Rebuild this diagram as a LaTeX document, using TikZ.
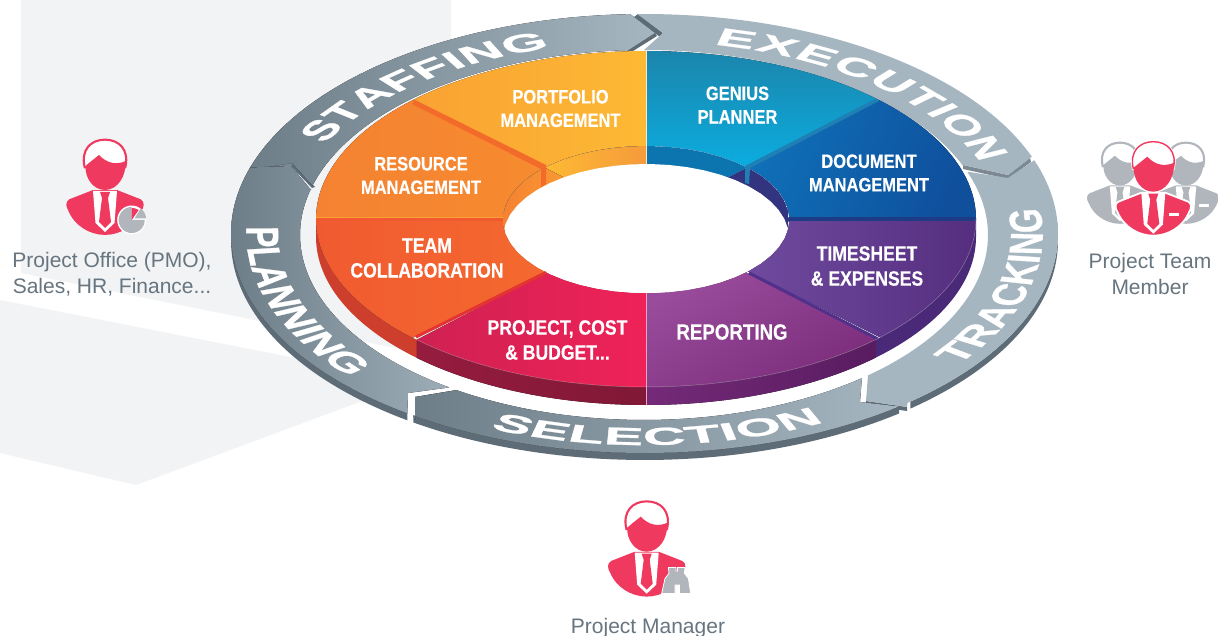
\documentclass[tikz,border=0pt]{standalone}
\usepackage{fontspec}
\usetikzlibrary{decorations.text}
\setmainfont{Liberation Sans}
\newfontfamily\condbase[FakeStretch=0.85,FakeBold=0.4]{Liberation Sans}
\newfontfamily\ringbase[FakeStretch=1.28,FakeBold=1]{Liberation Sans}
\def\ringf{\ringbase\bfseries\fontsize{46}{46}\selectfont\color{white}}
\definecolor{pk}{HTML}{F0395F}
\definecolor{gy}{HTML}{B1B6BC}
\definecolor{bgg}{HTML}{F2F3F5}
\definecolor{rlight}{HTML}{A6B6C0}
\definecolor{rdark}{HTML}{6E7E88}
\definecolor{rwall}{HTML}{5E6C78}
\definecolor{rstrip}{HTML}{7C8992}
\definecolor{lab}{HTML}{66757F}
\definecolor{HTMLa}{HTML}{CE3E2C}
\definecolor{HTMLb}{HTML}{961C3F}
\definecolor{HTMLc}{HTML}{742A78}
\definecolor{HTMLd}{HTML}{591C60}
\definecolor{HTMLe}{HTML}{4A2A78}
\definecolor{HTMLfa}{HTML}{F9A233}
\definecolor{HTMLfb}{HTML}{FDB934}
\definecolor{HTMLfc}{HTML}{F59B3B}
\definecolor{HTMLga}{HTML}{F58232}
\definecolor{HTMLgb}{HTML}{F68B2F}
\definecolor{HTMLha}{HTML}{F15A30}
\definecolor{HTMLhb}{HTML}{F4692F}
\definecolor{HTMLia}{HTML}{CF2152}
\definecolor{HTMLib}{HTML}{EF2258}
\definecolor{HTMLja}{HTML}{9A4C9C}
\definecolor{HTMLjb}{HTML}{7B2D7C}
\definecolor{HTMLka}{HTML}{6F4A9E}
\definecolor{HTMLkb}{HTML}{552E7F}
\definecolor{HTMLla}{HTML}{0F70B8}
\definecolor{HTMLlb}{HTML}{0F4F9C}
\definecolor{HTMLma}{HTML}{1B85AC}
\definecolor{HTMLmb}{HTML}{0BADE0}
\definecolor{HTMLna}{HTML}{0C74AE}
\definecolor{HTMLnb}{HTML}{33347F}
\definecolor{HTMLoa}{HTML}{F36B2A}
\definecolor{HTMLob}{HTML}{1E80B4}
\definecolor{HTMLoc}{HTML}{1D3C85}
\definecolor{HTMLod}{HTML}{E53331}
\definecolor{HTMLoe}{HTML}{50308A}
\def\Marc#1#2#3#4#5#6{plot[domain=#5:#6,samples=50,variable=\t] ({#1+#3*cos(\t)},{#2-#4*sin(\t)})}
\def\Larc#1#2#3#4#5#6{-- plot[domain=#5:#6,samples=50,variable=\t] ({#1+#3*cos(\t)},{#2-#4*sin(\t)})}
% ring ellipses
\def\RO#1#2{\Marc{644.5}{233.5}{413.5}{219.5}{#1}{#2}}
\def\RL#1#2{\Larc{644.5}{233.5}{413.5}{219.5}{#1}{#2}}
\def\RW#1#2{\Larc{644.5}{240.5}{413.5}{219.5}{#1}{#2}}
\def\RI#1#2{\Larc{644}{235}{344}{185}{#1}{#2}}
% disk
\def\sect#1#2{\Marc{646}{219}{330}{168}{#1}{#2} \Larc{646}{219.5}{143}{73.5}{#2}{#1} -- cycle}
\def\dwall#1#2{\Marc{646}{219}{330}{168}{#1}{#2} \Larc{646}{237}{330}{168}{#2}{#1} -- cycle}
\def\pie#1#2{(646,219.5) \Larc{646}{219.5}{143}{73.5}{#1}{#2} -- cycle}
\tikzset{
 seclabel/.style={text=white,align=center,inner sep=0pt,font={\condbase\bfseries\fontsize{19.4}{23.5}\selectfont}},
 seclabelb/.style={text=white,align=center,inner sep=0pt,font={\condbase\bfseries\fontsize{20.7}{25}\selectfont}},
 seclabelc/.style={text=white,align=center,inner sep=0pt,font={\condbase\bfseries\fontsize{22}{25}\selectfont}},
 personlabel/.style={text=lab,align=center,inner sep=0pt,font={\fontsize{21}{25.5}\selectfont}},
 ringword/.style={decorate,decoration={text along path,text format delimiters={|}{|},text align={fit to path},text={|\ringf|#1}}}
}
\newcommand\person[5]{%
\begin{scope}[shift={(#1,#2)},scale=#3]
 \filldraw[fill=white,draw=#5,line width=2.8pt] (-20,27) .. controls (-24,10) and (-14,0) .. (0,0) .. controls (14,0) and (24,10) .. (20,27) -- cycle;
 \filldraw[fill=#4,draw=#5,line width=1.8pt] (-12,51) -- (-35,60) .. controls (-39,62) and (-38,67) .. (-36,70) .. controls (-30,85) and (-15,94) .. (0,94) .. controls (15,94) and (30,85) .. (36,70) .. controls (38,67) and (39,62) .. (35,60) -- (12,51) -- cycle;
 \filldraw[fill=white,draw=#4,line width=1.4pt] (-20,27) .. controls (-24,10) and (-14,0) .. (0,0) .. controls (14,0) and (24,10) .. (20,27) -- cycle;
 \fill[#4] (-19.5,26) .. controls (-15,22) and (-11,19) .. (-6,15) .. controls (-2,19) and (2,22) .. (8,23) .. controls (12,23.5) and (17,23) .. (20.5,21) .. controls (21.5,37) and (12,50) .. (0,50) .. controls (-12,50) and (-20,38) .. cycle;
 \fill[white] (-12,51) -- (12,51) -- (9.5,83) -- (0,92) -- (-9.5,83) -- cycle;
 \fill[#4] (-5,52) -- (5,52) -- (3,58) -- (6,82) -- (0,88) -- (-6,82) -- (-3,58) -- cycle;
\end{scope}}
\begin{document}
\begin{tikzpicture}[x=1pt,y=-1pt]
\useasboundingbox (0,0) rectangle (1218,636);
\fill[white] (0,0) rectangle (1218,636);
% background planes
\fill[bgg] (21,0) -- (451,0) -- (451,359) -- (230,315) -- (21,273) -- cycle;
\fill[bgg] (0,300) -- (392,377) -- (392,390) -- (136,485) -- (0,453) -- cycle;
% ring: side walls
\fill[rwall] \RO{-125}{-181} \RW{-181}{-125} -- cycle;
\fill[rwall] \RO{-52}{-124} \RW{-124}{-52} -- cycle;
\fill[rwall] \RO{3}{-50} \RW{-50}{3} -- cycle;
% edge strips
\fill[rstrip] (1030,158) -- (1008,175) -- (963,165) -- (963,169) -- (1008,179) -- (1031,162) -- cycle;
\fill[rwall] (655,33) -- (627,51) -- (633,51) -- (657,36) -- cycle;
\fill[rwall] (638,14) -- (663,33) -- (660,37) -- (634,17) -- cycle;
\fill[rwall] (292,163) -- (315,187) -- (312,188) -- (290,165) -- cycle;
\fill[rstrip] (250,170) -- (292,163) -- (292,167) -- (250,174) -- cycle;
\fill[rstrip] (415,397) -- (457,390) -- (458,394) -- (415,401) -- cycle;
\fill[rwall] (866,401) -- (907,407) -- (907,411) -- (866,405) -- cycle;
% ring: faces
\fill[left color=rdark,right color=rlight] (292,163) -- (250,170) \RL{162.6}{92} -- (630,14) -- (655,33) -- (627,51) \RI{92.8}{164.5} -- cycle;
\fill[rlight] \RO{91}{20.5} -- (1030,158) -- (1008,175) -- (963,165) \RI{22}{90} -- (663,33) -- cycle;
\fill[rlight] \RO{19.5}{-50.5} -- (907,407) -- (866,401) -- (868,375) \RI{-49.4}{20} -- (1008,178) -- cycle;
\fill[left color=rdark,middle color=rlight,right color=rlight] \RO{-52}{-124} -- (415,420) -- (415,397) -- (457,390) \RI{-123}{-50.7} -- (860,402) -- cycle;
\fill[left color=rdark,right color=rlight!85!rdark] \RO{-125}{-197.5} -- (291,166) -- (311,190) \RI{-194.5}{-124.5} -- (408,393) -- cycle;
% ring words
\begin{scope}[transform canvas={shift={(644.5pt,-234pt)},yscale=.533}]
 \path[ringword=STAFFING] (152:362pt) arc[start angle=152,end angle=105,radius=362pt];
 \path[ringword=EXECUTION] (79:362pt) arc[start angle=79,end angle=22,radius=362pt];
 \path[ringword=TRACKING] (-38:398pt) arc[start angle=-38,end angle=7,radius=398pt];
 \path[ringword=SELECTION] (-113:396pt) arc[start angle=-113,end angle=-63,radius=396pt];
 \path[ringword=PLANNING] (178:398pt) arc[start angle=178,end angle=221,radius=398pt];
\end{scope}
% disk outer walls
\fill[HTMLa] \dwall{180}{226};
\fill[left color=HTMLb,right color=HTMLb!85!black] \dwall{226}{270};
\fill[left color=HTMLc,right color=HTMLd] \dwall{270}{314.2};
\fill[HTMLe] \dwall{314.2}{360};
% disk faces
\fill[left color=HTMLfa,right color=HTMLfb] \sect{90}{135};
\fill[left color=HTMLga,right color=HTMLgb] \sect{135}{180};
\fill[left color=HTMLha,right color=HTMLhb] \sect{180}{225};
\fill[left color=HTMLia,right color=HTMLib] \sect{226}{270};
\fill[shading=axis,left color=HTMLja,right color=HTMLjb,shading angle=30] \sect{270}{314.2};
\fill[shading=axis,left color=HTMLka,right color=HTMLkb] \sect{315.2}{360};
\fill[shading=axis,left color=HTMLla,right color=HTMLlb,shading angle=70] \sect{0}{45};
\fill[top color=HTMLma,bottom color=HTMLmb] \sect{45}{90};
% inner wall
\begin{scope}
 \clip \Marc{646}{219.5}{143}{73.5}{0}{360} -- cycle;
 \fill[white] (500,140) rectangle (800,300);
 \fill[left color=HTMLga,right color=HTMLfb] \pie{135}{190};
 \fill[left color=HTMLfb,right color=HTMLfc] \pie{90}{135};
 \fill[HTMLna] \pie{45}{90};
 \fill[HTMLnb] \pie{-10}{45};
 \fill[white] \Marc{646}{237.5}{143}{73.5}{0}{360} -- cycle;
\end{scope}
% bands
\fill[HTMLoa] (415,100) -- (546,165) -- (546,184) -- (541,187) -- (541,169) -- (412,104) -- cycle;
\fill[HTMLob] (879,101) -- (750,168) -- (749,184) -- (745,183) -- (745,166) -- (875,99) -- cycle;
\fill[HTMLha] (316,217.5) rectangle (503,221.5);
\draw[HTMLfa,line width=.6pt] (316,217.5) -- (503,217.5);
\fill[HTMLoc] (789,217.5) rectangle (976,221.5);
\draw[HTMLod,line width=3pt] (416,337) -- (546,272.5);
\draw[HTMLoe,line width=3pt] (878,339) -- (749,273);
\draw[white!75!HTMLfa,line width=.7pt] (646,51) -- (646,164);
\draw[white!60!HTMLia,line width=.7pt] (646,293) -- (646,405);
\draw[white,opacity=.35,line width=.5pt] \Marc{646}{219}{330}{168}{226}{360};
% labels
\node[seclabel] (portfolio) at (560.5,108.5) {PORTFOLIO\\MANAGEMENT};
\node[seclabel] (resource) at (421,175.5) {RESOURCE\\MANAGEMENT};
\node[seclabelb] (team) at (427,258) {TEAM\\COLLABORATION};
\node[seclabelb] (project) at (557.5,340) {PROJECT, COST\\\& BUDGET...};
\node[seclabelc] (reporting) at (732,332) {REPORTING};
\node[seclabelb] (timesheet) at (867,266) {TIMESHEET\\\& EXPENSES};
\node[seclabel] (document) at (869,173) {DOCUMENT\\MANAGEMENT};
\node[seclabel] (genius) at (737.5,105) {GENIUS\\PLANNER};
% people
\person{105}{140}{1}{pk}{pk}
\begin{scope}[shift={(105,140)}]
 \fill[white] (26.7,80) circle[radius=14.5];
 \fill[gy] (26.7,80) \Larc{26.7}{80}{13}{13}{90}{360} -- cycle;
 \fill[pk] (26.7,80) \Larc{26.7}{80}{12}{12}{55}{90} -- cycle;
 \fill[gy] (29.5,78.5) \Larc{29.5}{78.5}{11.5}{11.5}{0}{58} -- cycle;
\end{scope}
\person{1120}{143}{.85}{gy}{gy}
\person{1186}{143}{.85}{gy}{gy}
\fill[white] (1199,204) rectangle (1209,207);
\person{1153.3}{141.7}{1}{pk}{white}
\fill[white] (1169,213) rectangle (1179,216);
\person{646.7}{501.7}{1}{pk}{pk}
\begin{scope}[shift={(646.7,501.7)}]
 \filldraw[fill=gy,draw=white,line width=.8pt] (15,91.7) -- (28.3,91.7) -- (28.3,83.3) -- (32.7,83.3) -- (32.7,91.7) -- (44,91.7) -- (41.7,76.7) -- (37.7,71.7) -- (38.3,65.7) -- (30.7,65.7) -- (30.7,69.3) -- (29.3,69.3) -- (29.3,65.7) -- (21.7,65.7) -- (22.3,71.7) -- (18.3,76.7) -- cycle;
\end{scope}
\node[personlabel] (pmo) at (112,274) {Project Office (PMO),\\Sales, HR, Finance...};
\node[personlabel] (member) at (1150,274) {Project Team\\Member};
\node[personlabel] (manager) at (648,628) {Project Manager};
\end{tikzpicture}
\end{document}
